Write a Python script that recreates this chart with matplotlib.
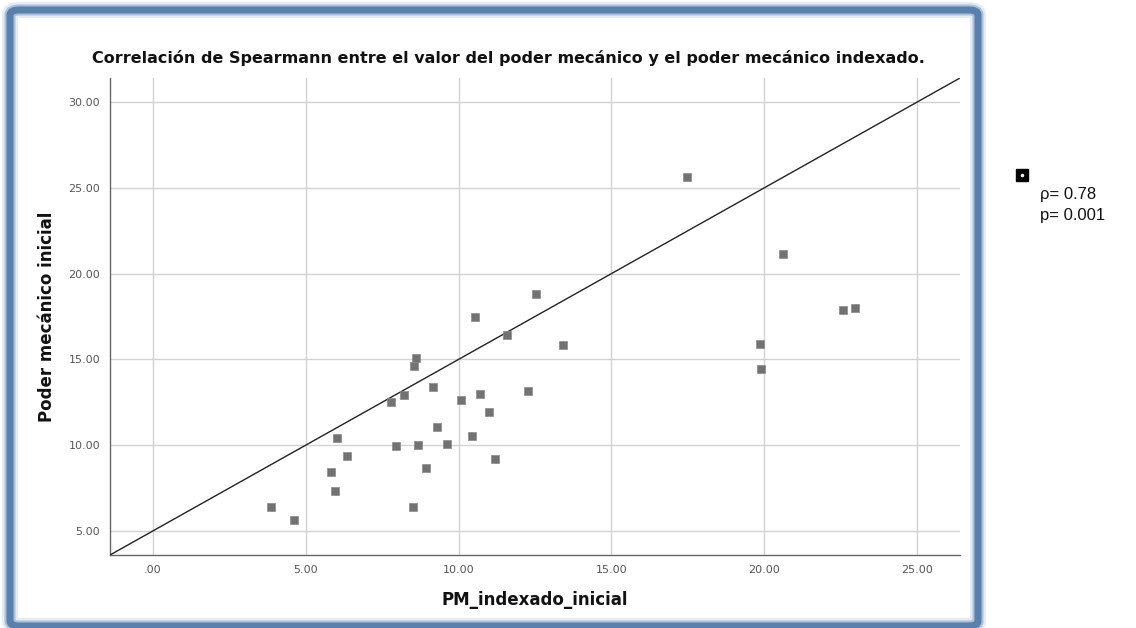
import matplotlib
matplotlib.use("Agg")
import matplotlib.pyplot as plt
from matplotlib.patches import FancyBboxPatch
from matplotlib.lines import Line2D

# Mechanical power data (indexed vs. initial)
pm_indexado = [10.54, 8.60, 8.54, 9.18, 8.23, 7.80, 10.07, 10.70, 11.01, 9.29,
               6.04, 7.96, 8.68, 9.63, 10.43, 6.35, 8.94, 5.84, 11.19, 5.97,
               3.86, 8.51, 4.62, 11.57, 13.40, 12.28, 19.85, 19.89, 22.55, 22.96,
               17.46, 20.61, 12.52]
poder_mecanico = [17.46, 15.10, 14.63, 13.37, 12.93, 12.50, 12.66, 13.00, 11.92, 11.06,
                  10.43, 9.96, 10.00, 10.10, 10.52, 9.38, 8.68, 8.45, 9.23, 7.34,
                  6.41, 6.40, 5.62, 16.44, 15.85, 13.16, 15.87, 14.46, 17.85, 18.00,
                  25.64, 21.14, 18.82]

# Reference line y = intercept + slope * x
line_intercept = 5.0
line_slope = 1.0

x_ticks = [0, 5, 10, 15, 20, 25]
y_ticks = [5, 10, 15, 20, 25, 30]
x_limits = (-1.39, 26.39)
y_limits = (3.61, 31.39)

rho_text = "\u03c1= 0.78"
p_text = "p= 0.001"
title = "Correlación de Spearmann entre el valor del poder mecánico y el poder mecánico indexado."
x_label = "PM_indexado_inicial"
y_label = "Poder mecánico inicial"

W, H = 1136, 628
fig = plt.figure(figsize=(W / 100, H / 100), dpi=100)
fig.patch.set_facecolor("white")

# Blue panel frame with soft glow
for lw, col, a in [(16, "#b3c8e0", 0.35), (11, "#86a4c7", 0.6), (7, "#5a80ab", 1.0)]:
    frame = FancyBboxPatch((10 / W, 2 / H), 968 / W, (H - 12) / H,
                           boxstyle="round,pad=0,rounding_size=0.008",
                           transform=fig.transFigure, facecolor="none",
                           edgecolor=col, linewidth=lw * 0.72, alpha=a, zorder=0)
    fig.add_artist(frame)

ax = fig.add_axes([110 / W, 1 - 555 / H, (960 - 110) / W, (555 - 78) / H])
ax.set_xlim(*x_limits)
ax.set_ylim(*y_limits)
ax.set_facecolor("none")

ax.set_xticks(x_ticks)
ax.set_yticks(y_ticks)
fmt = lambda v: (f"{v:.2f}" if v != 0 else ".00")
ax.set_xticklabels([fmt(v) for v in x_ticks])
ax.set_yticklabels([fmt(v) for v in y_ticks])
ax.tick_params(length=0, labelsize=8, labelcolor="#555555", pad=7)
ax.grid(True, color="#d2d2d2", linewidth=1.0)
ax.set_axisbelow(True)

for s in ["top", "right"]:
    ax.spines[s].set_visible(False)
for s in ["left", "bottom"]:
    ax.spines[s].set_color("#666666")
    ax.spines[s].set_linewidth(1.0)

ax.axline((0, line_intercept), slope=line_slope, color="#222222", linewidth=1.0, zorder=3)
ax.scatter(pm_indexado, poder_mecanico, marker="s", s=28, color="#727272",
           edgecolors="#8a8a8a", linewidths=0.5, zorder=4)

fig.text(508 / W, 1 - 58 / H, title, ha="center", va="center",
         fontsize=11.5, fontweight="bold", color="#111111")
ax.set_xlabel(x_label, fontsize=12, fontweight="bold", labelpad=12, color="#111111")
ax.set_ylabel(y_label, fontsize=12, fontweight="bold", labelpad=9, color="#111111")

# Legend-like annotation outside the panel
fig.add_artist(Line2D([1022 / W], [1 - 175 / H], marker="s", markersize=8,
                      color="black", markerfacecolor="black", linestyle="none",
                      transform=fig.transFigure))
fig.add_artist(Line2D([1022 / W], [1 - 175 / H], marker="o", markersize=1.5,
                      color="white", linestyle="none", transform=fig.transFigure))
fig.text(1040 / W, 1 - 195 / H, rho_text, fontsize=12, family="Liberation Sans",
         va="center", ha="left", color="#111111")
fig.text(1040 / W, 1 - 216 / H, p_text, fontsize=12, family="Liberation Sans",
         va="center", ha="left", color="#111111")

fig.savefig("out.png", dpi=100)
